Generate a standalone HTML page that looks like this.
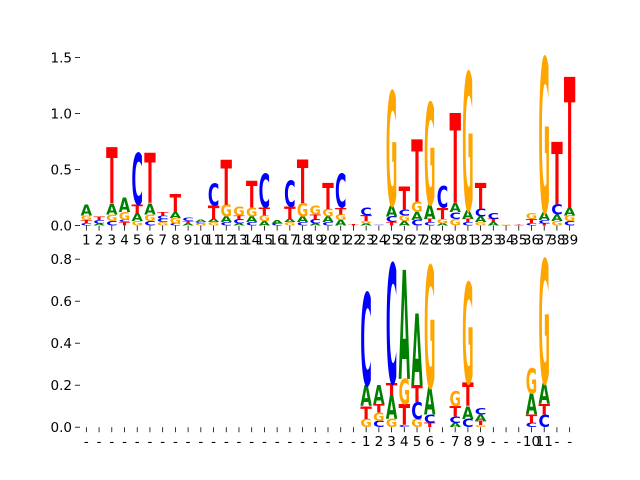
<!DOCTYPE html>
<html><head><meta charset="utf-8"><style>
html,body{margin:0;padding:0;background:#fff;}
svg{display:block;font-family:"DejaVu Sans","Liberation Sans",sans-serif;}
</style></head><body>
<svg id="chart" width="640" height="480" viewBox="0 0 640 480" xmlns="http://www.w3.org/2000/svg">
<rect width="640" height="480" fill="#fff"/>
<g id="top"></g>
<g id="bottom"></g>
</svg>
<script>
// top panel data: per position, stacked bottom->top [letter, height]
const topPositions = ["1","2","3","4","5","6","7","8","9","10","11","12","13","14","15","16","17","18","19","20","21","22","23","24","25","26","27","28","29","30","31","32","33","34","35","36","37","38","39"];
const topStacks = [
 [["C",.02],["T",.03],["G",.04],["A",.1]],
 [["A",.02],["C",.03],["T",.03]],
 [["C",.04],["G",.06],["A",.1],["T",.5]],
 [["T",.03],["C",.02],["G",.07],["A",.13]],
 [["G",.04],["A",.07],["T",.08],["C",.46]],
 [["C",.04],["G",.06],["A",.1],["T",.45]],
 [["G",.03],["C",.03],["C",.03],["T",.03]],
 [["C",.02],["G",.05],["A",.05],["T",.16]],
 [["A",.02],["T",.02],["C",.03]],
 [["G",.02],["C",.01],["A",.02]],
 [["G",.03],["A",.03],["T",.12],["C",.2]],
 [["C",.03],["A",.05],["G",.11],["T",.4]],
 [["A",.02],["C",.04],["T",.03],["G",.08]],
 [["C",.03],["A",.05],["G",.08],["T",.24]],
 [["A",.04],["G",.05],["T",.07],["C",.3]],
 [["C",.02],["A",.03]],
 [["G",.03],["A",.03],["T",.11],["C",.23]],
 [["C",.03],["A",.05],["G",.12],["T",.39]],
 [["A",.02],["C",.04],["T",.04],["G",.08]],
 [["C",.03],["A",.05],["G",.07],["T",.23]],
 [["A",.05],["G",.05],["T",.06],["C",.3]],
 [["T",.01]],
 [["A",.02],["G",.02],["T",.05],["C",.07]],
 [["G",.005],["C",.005]],
 [["T",.03],["C",.05],["A",.1],["G",1.02]],
 [["A",.04],["G",.05],["C",.05],["T",.21]],
 [["C",.05],["A",.07],["G",.09],["T",.56]],
 [["C",.03],["T",.03],["A",.13],["G",.91]],
 [["A",.02],["G",.04],["T",.1],["C",.19]],
 [["G",.06],["C",.06],["A",.08],["T",.8]],
 [["C",.03],["T",.03],["A",.08],["G",1.23]],
 [["G",.03],["A",.05],["C",.07],["T",.23]],
 [["A",.03],["T",.03],["C",.05]],
 [["A",.005],["G",.005]],
 [["C",.005],["T",.005]],
 [["C",.02],["T",.04],["G",.05]],
 [["T",.02],["C",.03],["A",.07],["G",1.38]],
 [["G",.04],["A",.06],["C",.09],["T",.56]],
 [["C",.04],["G",.05],["A",.07],["T",1.17]]
];
const topYTicks = [0.0, 0.5, 1.0, 1.5];
const bottomLabels = ["-","-","-","-","-","-","-","-","-","-","-","-","-","-","-","-","-","-","-","-","-","-","1","2","3","4","5","6","-","7","8","9","-","-","-","10","11","-","-"];
const bottomStacks = {
 23: [["G",.04],["T",.06],["A",.1],["C",.44]],
 24: [["C",.03],["G",.04],["T",.04],["A",.09]],
 25: [["G",.04],["A",.11],["T",.06],["C",.57]],
 26: [["C",.01],["T",.1],["G",.12],["A",.52]],
 27: [["G",.04],["C",.08],["T",.08],["A",.34]],
 28: [["T",.02],["C",.04],["A",.13],["G",.58]],
 30: [["A",.02],["C",.03],["T",.05],["G",.07]],
 31: [["C",.04],["A",.06],["T",.11],["G",.48]],
 32: [["G",.01],["T",.02],["A",.03],["C",.03]],
 36: [["C",.02],["T",.04],["A",.1],["G",.12]],
 37: [["C",.06],["T",.05],["A",.1],["G",.59]]
};
const bottomYTicks = [0.0, 0.2, 0.4, 0.6, 0.8];

const NS = "http://www.w3.org/2000/svg";
const COLORS = {A:"#008000", C:"#0000ff", G:"#ffa500", T:"#ff0000"};
const X0 = 80, X1 = 576, N = 39;
function xScale(p){ return X0 + (p - 0.5) * (X1 - X0) / N; }
function mk(tag, attrs, parent){ const e = document.createElementNS(NS, tag); for (const k in attrs) e.setAttribute(k, attrs[k]); parent.appendChild(e); return e; }

function drawPanel(g, yTop, yBot, yMax, yTicks, fmt, labels, stackAt, panelName){
  const yScale = v => yBot - v * (yBot - yTop) / yMax;
  const w = (X1 - X0) / N * 0.9;
  for (let i = 0; i < N; i++){
    const p = i + 1;
    const stack = stackAt(p);
    if (!stack) continue;
    let cum = 0;
    stack.forEach(([L, h]) => {
      const yb = yScale(cum), yt = yScale(cum + h);
      cum += h;
      const hp = yb - yt; if (hp <= 0) return;
      const t = mk("text", {"font-size":"100","font-weight":"bold","fill":COLORS[L],"textLength":"70","lengthAdjust":"spacingAndGlyphs",
        "x":"0","y":"0","transform":`translate(${xScale(p)-w/2},${yb}) scale(${w/70},${hp/73})`}, g);
      
      
      t.textContent = L;
    });
  }
  yTicks.forEach(v => {
    const y = yScale(v);
    const l = mk("line", {x1:X0-5, x2:X0, y1:y, y2:y, stroke:"#000", "stroke-width":"0.8"}, g);
    
    
    const t = mk("text", {x:X0-8, y:y+5, "font-size":"13.5", "text-anchor":"end", fill:"#000"}, g);
    
    
    t.textContent = fmt(v);
  });
  labels.forEach((lab, i) => {
    const x = xScale(i + 1);
    const l = mk("line", {x1:x, x2:x, y1:yBot, y2:yBot+5, stroke:"#000", "stroke-width":"0.8"}, g);
    
    
    const t = mk("text", {x:x, y:yBot+19, "font-size":"13.5", "text-anchor":"middle", fill:"#000"}, g);
    
    
    t.textContent = lab;
  });
}
drawPanel(document.getElementById("top"), 57.6, 225.6, 1.5, topYTicks, v => v.toFixed(1), topPositions, p => topStacks[p-1], "top");
drawPanel(document.getElementById("bottom"), 259.2, 427.2, 0.8, bottomYTicks, v => v.toFixed(1), bottomLabels, p => bottomStacks[p], "bottom");
</script>
</body></html>
